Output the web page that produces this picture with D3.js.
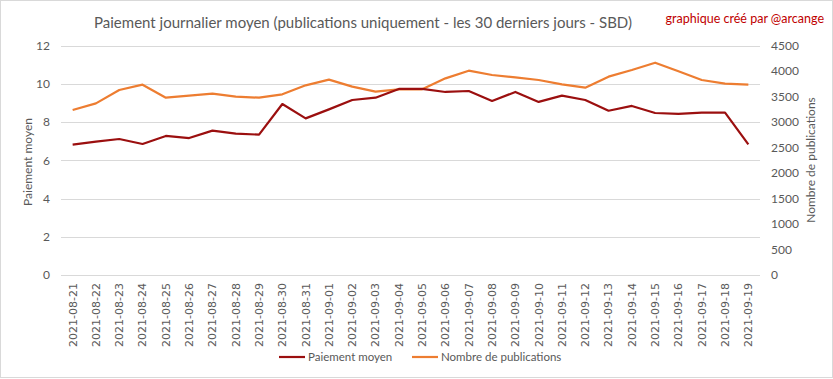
<!DOCTYPE html>
<html><head><meta charset="utf-8">
<script src="https://cdn.jsdelivr.net/npm/d3@7"></script>
<style>body{margin:0;background:#fff}svg{display:block}</style>
</head><body>
<svg id="c" width="833" height="379"></svg>
<script>
const dates = ["2021-08-21","2021-08-22","2021-08-23","2021-08-24","2021-08-25","2021-08-26","2021-08-27","2021-08-28","2021-08-29","2021-08-30","2021-08-31","2021-09-01","2021-09-02","2021-09-03","2021-09-04","2021-09-05","2021-09-06","2021-09-07","2021-09-08","2021-09-09","2021-09-10","2021-09-11","2021-09-12","2021-09-13","2021-09-14","2021-09-15","2021-09-16","2021-09-17","2021-09-18","2021-09-19"];
const paiement = [6.82,6.97,7.11,6.85,7.27,7.16,7.55,7.39,7.34,8.94,8.19,8.66,9.15,9.27,9.73,9.73,9.57,9.62,9.10,9.57,9.05,9.38,9.15,8.59,8.84,8.47,8.42,8.49,8.49,6.83];
const publications = [3235,3366,3627,3732,3477,3516,3556,3497,3477,3543,3719,3830,3693,3595,3641,3641,3856,4006,3922,3876,3824,3739,3673,3889,4020,4163,3994,3824,3752,3732];
const leftTicks = [0,2,4,6,8,10,12];
const rightTicks = [0,500,1000,1500,2000,2500,3000,3500,4000,4500];
const title = "Paiement journalier moyen (publications uniquement  - les 30 derniers jours - SBD)";
const credit = "graphique créé par @arcange";
const seriesNames = ["Paiement moyen","Nombre de publications"];
const colors = ["#9B0F0F","#ED7D31"];

const svg = d3.select("#c");
const font = "Lato, 'Open Sans', sans-serif";
const grey = "#595959";
svg.append("rect").attr("x",0.5).attr("y",0.5).attr("width",832).attr("height",377).attr("fill","#fff").attr("stroke","#d9d9d9");

const x = d3.scaleBand().domain(dates).range([61,760]);
const yL = d3.scaleLinear().domain([0,12]).range([275,45.5]);
const yR = d3.scaleLinear().domain([0,4500]).range([275,45.5]);

svg.append("g").selectAll("line").data(leftTicks).join("line")
  .attr("x1",61).attr("x2",760).attr("y1",d=>Math.round(yL(d))+0.5).attr("y2",d=>Math.round(yL(d))+0.5)
  .attr("stroke","#d9d9d9").attr("stroke-width",1);

const gl = svg.append("g").attr("transform","translate(50,0)")
  .call(d3.axisLeft(yL).tickValues(leftTicks).tickSize(0).tickPadding(0));
gl.select(".domain").remove();
gl.selectAll("text").attr("fill",grey).attr("font-size",12).attr("font-family",font);

const gr = svg.append("g").attr("transform","translate(771,0)")
  .call(d3.axisRight(yR).tickValues(rightTicks).tickFormat(d3.format("d")).tickSize(0).tickPadding(0));
gr.select(".domain").remove();
gr.selectAll("text").attr("fill",grey).attr("font-size",12).attr("font-family",font);

const gx = svg.append("g").attr("transform","translate(0,275)")
  .call(d3.axisBottom(x).tickSize(0).tickPadding(0));
gx.select(".domain").remove();
gx.selectAll("text").attr("fill",grey).attr("font-size",11).attr("font-family","'DejaVu Sans', sans-serif")
  .attr("text-anchor","end").attr("dy","0.35em")
  .attr("transform","translate(0,8) rotate(-90)").attr("x",0).attr("y",0);

const lineL = d3.line().x((d,i)=>x(dates[i])+x.bandwidth()/2).y(d=>yL(d));
const lineR = d3.line().x((d,i)=>x(dates[i])+x.bandwidth()/2).y(d=>yR(d));
svg.append("path").datum(publications).attr("d",lineR).attr("fill","none").attr("stroke",colors[1]).attr("stroke-width",2.2).attr("stroke-linejoin","round");
svg.append("path").datum(paiement).attr("d",lineL).attr("fill","none").attr("stroke",colors[0]).attr("stroke-width",2.2).attr("stroke-linejoin","round");

svg.append("text").attr("x",363).attr("y",28).attr("text-anchor","middle").attr("fill",grey)
  .attr("font-size",15).attr("font-family",font).text(title);
svg.append("text").attr("x",824).attr("y",23).attr("text-anchor","end").attr("fill","#C00000")
  .attr("font-size",12.5).attr("font-family",font).text(credit);

svg.append("text").attr("transform","translate(32,162) rotate(-90)").attr("text-anchor","middle")
  .attr("fill",grey).attr("font-size",12).attr("font-family",font).text("Paiement moyen");
svg.append("text").attr("transform","translate(815,160) rotate(-90)").attr("text-anchor","middle")
  .attr("fill",grey).attr("font-size",12).attr("font-family",font).text("Nombre de publications");

const leg = [{x:279,name:seriesNames[0],c:colors[0]},{x:412,name:seriesNames[1],c:colors[1]}];
const lg = svg.append("g").selectAll("g").data(leg).join("g");
lg.append("line").attr("x1",d=>d.x).attr("x2",d=>d.x+26).attr("y1",357).attr("y2",357).attr("stroke",d=>d.c).attr("stroke-width",2.2);
lg.append("text").attr("x",d=>d.x+29).attr("y",361).attr("fill",grey).attr("font-size",11.5).attr("font-family",font).text(d=>d.name);
</script>
</body></html>
